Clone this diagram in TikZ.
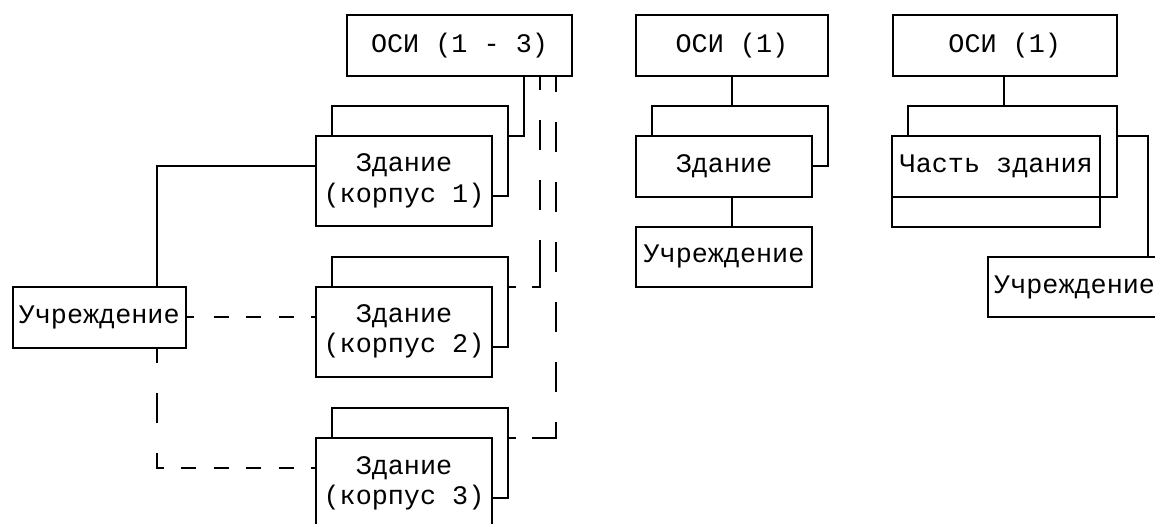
\documentclass[tikz,border=0pt]{standalone}
\usepackage{fontspec}
\setmainfont{Liberation Mono}
\begin{document}
\begin{tikzpicture}[x=1pt,y=-1pt,
  ln/.style={line width=2.2pt, line join=miter},
  box/.style={draw, line width=2.2pt, fill=white, inner sep=0pt, outer sep=0pt, align=center, font=\fontsize{26.8}{30.2}\selectfont},
  shade/.style={draw, line width=2.2pt, inner sep=0pt, outer sep=0pt},
  hold/.style={inner sep=0pt, outer sep=0pt},
  lbl/.style={inner sep=0pt, font=\fontsize{26.8}{30.2}\selectfont},
  dashtwo/.style={ln, dash pattern=on 8pt off 16pt on 54pt off 30pt on 30pt off 30pt on 30pt off 30pt on 20pt off 30pt},
  dashthree/.style={ln, dash pattern=on 8pt off 16pt on 39.3pt off 30pt on 30pt off 30pt on 30pt off 30pt on 30pt off 30pt on 30pt off 30pt on 30pt off 30pt on 20pt off 30pt},
  dashmid/.style={ln, dash pattern=on 7.9pt off 19.9pt on 15pt off 17.5pt on 15pt off 17.5pt on 15pt off 17.5pt on 15pt off 17.5pt},
  dashlow/.style={ln, dash pattern=on 15pt off 30pt on 30pt off 30pt on 22.8pt off 16.8pt on 15pt off 17.5pt on 15pt off 17.5pt on 15pt off 17.5pt on 15pt off 17.5pt on 15pt off 30pt},
]
\useasboundingbox (0,0) rectangle (1155,523);
\clip (0,0) rectangle (1155,523);
\fill[white] (0,0) rectangle (1155,523);

% top boxes
\node[box, minimum width=224.4pt, minimum height=61pt] (osiA) at (459.5,45.5) {ОСИ (1 - 3)};
\node[box, minimum width=192.3pt, minimum height=61pt] (osiB) at (731.9,45.5) {ОСИ (1)};
\node[box, minimum width=224pt, minimum height=61pt] (osiC) at (1004.7,45.5) {ОСИ (1)};

% left institution
\node[box, minimum width=173pt, minimum height=60.4pt] (uchL) at (99.2,317.5) {Учреждение};

% buildings (shadow + front)
\node[shade, minimum width=176pt, minimum height=90pt] (zd1s) at (420.3,151) {};
\node[box, minimum width=176.6pt, minimum height=89.7pt] (zd1) at (404,180.9) {Здание\\(корпус 1)};
\node[shade, minimum width=176pt, minimum height=90pt] (zd2s) at (420.3,302) {};
\node[box, minimum width=176.6pt, minimum height=90pt] (zd2) at (404,331.7) {Здание\\(корпус 2)};
\node[shade, minimum width=176pt, minimum height=90pt] (zd3s) at (420.3,452.9) {};
\node[box, minimum width=176.6pt, minimum height=90pt] (zd3) at (404,483) {Здание\\(корпус 3)};

% middle column
\node[shade, minimum width=175.7pt, minimum height=60pt] (zdMs) at (740.2,135.7) {};
\node[box, minimum width=176.6pt, minimum height=60.7pt] (zdM) at (724,166.4) {Здание};
\node[box, minimum width=176.6pt, minimum height=60pt] (uchM) at (724,256.7) {Учреждение};

% right column
\node[box, fill=none, minimum width=207.7pt, minimum height=90.7pt] (chF) at (996.2,181.4) {};
\node[lbl] (chT) at (996.2,166) {Часть здания};
\node[hold, minimum width=209pt, minimum height=91.6pt] (chS) at (1012.2,151.5) {};
\draw[ln] (chS.west |- chF.north) -- (chS.north west) -- (chS.north east) -- (chS.south east) -- (chS.south -| chF.west);
\node[box, minimum width=172.7pt, minimum height=60pt] (uchR) at (1074.6,287.3) {Учреждение};

% junction points
\coordinate (j1) at (524,136);
\coordinate (j2) at (540,286.7);
\coordinate (j3) at (556,438);
\coordinate (k1) at (156.7,166);
\coordinate (k3) at (156.7,468);
\coordinate (m1) at (732.3,0);
\coordinate (n1) at (1004.3,0);
\coordinate (r1) at (1148.3,136);

% connectors
\draw[ln] (osiA.south -| j1) -- (j1) -- (zd1s.east |- j1);
\draw[dashtwo] (zd2s.east |- j2) -- (j2) -- (osiA.south -| j2);
\draw[dashthree] (zd3s.east |- j3) -- (j3) -- (osiA.south -| j3);
\draw[ln] (uchL.north -| k1) -- (k1) -- (zd1.west |- k1);
\draw[dashmid] (uchL.east |- 0,317) -- (zd2.west |- 0,317);
\draw[dashlow] (uchL.south -| k3) -- (k3) -- (zd3.west |- k3);
\draw[ln] (osiB.south -| m1) -- (zdMs.north -| m1);
\draw[ln] (zdM.south -| m1) -- (uchM.north -| m1);
\draw[ln] (osiC.south -| n1) -- (chS.north -| n1);
\draw[ln] (chS.east |- r1) -- (r1) -- (uchR.north -| r1);
\end{tikzpicture}
\end{document}
